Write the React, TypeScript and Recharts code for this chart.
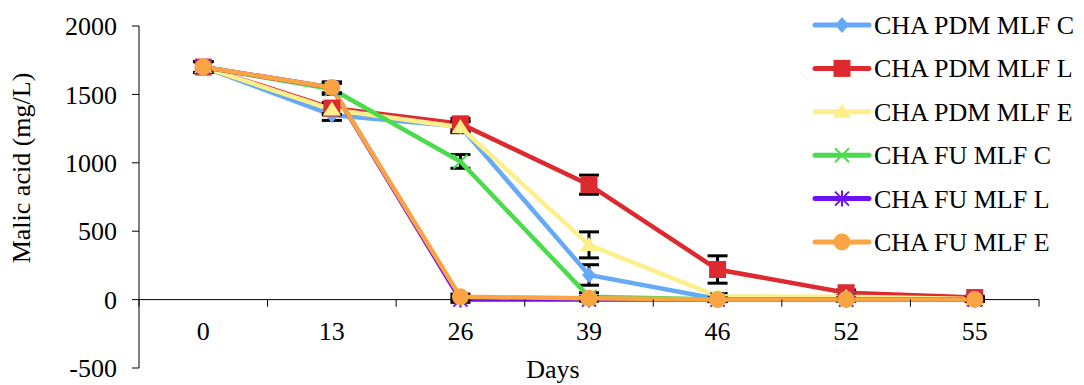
import React from 'react';
import { LineChart, Line, XAxis, YAxis, ReferenceLine, ErrorBar, Legend, Label } from 'recharts';

const FONT = '"Liberation Serif", "Times New Roman", serif';

const days = ['0', '13', '26', '39', '46', '52', '55'];

const pdmC = [1700, 1350, 1265, 180, 5, 0, 0];
const pdmL = [1700, 1400, 1285, 840, 220, 50, 15];
const pdmE = [1700, 1390, 1260, 400, 25, 20, 5];
const fuC = [1700, 1540, 1010, 20, 0, 0, 0];
const fuL = [1700, 1550, 0, 0, 0, 0, 0];
const fuE = [1700, 1550, 20, 10, 0, 0, 0];

const pdmCErr = [40, 40, 40, 75, 20, 10, 10];
const pdmLErr = [40, 40, 40, 70, 100, 20, 10];
const pdmEErr = [40, 40, 40, 95, 20, 10, 10];
const fuCErr = [40, 40, 50, 30, 10, 10, 10];
const fuLErr = [40, 40, 20, 10, 10, 10, 10];
const fuEErr = [40, 40, 20, 10, 10, 10, 10];

const yTicks = [-500, 0, 500, 1000, 1500, 2000];

// layout
const W = 1084;
const H = 385;
const PLOT_LEFT = 139;
const PLOT_RIGHT = 1039;
const PLOT_TOP = 26;
const PLOT_BOTTOM = 368;
const Y_MIN = -500;
const Y_MAX = 2000;
const ZERO_Y = PLOT_TOP + ((Y_MAX - 0) / (Y_MAX - Y_MIN)) * (PLOT_BOTTOM - PLOT_TOP);
const BAND = (PLOT_RIGHT - PLOT_LEFT) / days.length;

type Shape = 'diamond' | 'square' | 'triangle' | 'cross' | 'star' | 'circle';

const series: { key: string; err: string; name: string; color: string; shape: Shape; values: number[]; errors: number[] }[] = [
  { key: 'pdmC', err: 'pdmCErr', name: 'CHA PDM MLF C', color: '#66aaf7', shape: 'diamond', values: pdmC, errors: pdmCErr },
  { key: 'pdmL', err: 'pdmLErr', name: 'CHA PDM MLF L', color: '#dd2a30', shape: 'square', values: pdmL, errors: pdmLErr },
  { key: 'pdmE', err: 'pdmEErr', name: 'CHA PDM MLF E', color: '#fdf08c', shape: 'triangle', values: pdmE, errors: pdmEErr },
  { key: 'fuC', err: 'fuCErr', name: 'CHA FU MLF C', color: '#4cdb4c', shape: 'cross', values: fuC, errors: fuCErr },
  { key: 'fuL', err: 'fuLErr', name: 'CHA FU MLF L', color: '#6a12f2', shape: 'star', values: fuL, errors: fuLErr },
  { key: 'fuE', err: 'fuEErr', name: 'CHA FU MLF E', color: '#fba444', shape: 'circle', values: fuE, errors: fuEErr },
];

const data = days.map((day, i) => {
  const row: Record<string, string | number> = { day };
  series.forEach((s) => {
    row[s.key] = s.values[i];
    row[s.err] = s.errors[i];
  });
  return row;
});

const Marker = ({ shape, cx, cy, color }: { shape: Shape; cx: number; cy: number; color: string }) => {
  switch (shape) {
    case 'diamond':
      return <polygon points={`${cx},${cy - 8} ${cx + 7},${cy} ${cx},${cy + 8} ${cx - 7},${cy}`} fill={color} />;
    case 'square':
      return <rect x={cx - 8.5} y={cy - 8.5} width={17} height={17} fill={color} />;
    case 'triangle':
      return <polygon points={`${cx},${cy - 8} ${cx + 9},${cy + 6} ${cx - 9},${cy + 6}`} fill={color} />;
    case 'cross':
      return (
        <g stroke={color} strokeWidth={2}>
          <line x1={cx - 7} y1={cy - 7} x2={cx + 7} y2={cy + 7} />
          <line x1={cx - 7} y1={cy + 7} x2={cx + 7} y2={cy - 7} />
        </g>
      );
    case 'star':
      return (
        <g stroke={color} strokeWidth={2}>
          <line x1={cx - 7} y1={cy - 7} x2={cx + 7} y2={cy + 7} />
          <line x1={cx - 7} y1={cy + 7} x2={cx + 7} y2={cy - 7} />
          <line x1={cx} y1={cy - 8} x2={cx} y2={cy + 8} />
        </g>
      );
    default:
      return <circle cx={cx} cy={cy} r={8.5} fill={color} />;
  }
};

// category label under the zero line, with boundary tick marks between days
const DayTick = (props: any) => {
  const { x, payload, index } = props;
  const left = x - BAND / 2;
  const right = x + BAND / 2;
  return (
    <g>
      <line x1={left} y1={ZERO_Y} x2={left} y2={ZERO_Y + 7} stroke="#000" />
      {index === days.length - 1 && <line x1={right} y1={ZERO_Y} x2={right} y2={ZERO_Y + 7} stroke="#000" />}
      <text x={x} y={ZERO_Y + 40} textAnchor="middle" fontSize={26} fontFamily={FONT} fill="#000">
        {payload.value}
      </text>
    </g>
  );
};

const LegendBox = () => (
  <svg width={278} height={265}>
    {series.map((s, i) => {
      const cy = 25 + i * 43.4;
      return (
        <g key={s.key}>
          <line x1={9} y1={cy} x2={63} y2={cy} stroke={s.color} strokeWidth={5} strokeLinecap="round" />
          <Marker shape={s.shape} cx={36} cy={cy} color={s.color} />
          <text x={68} y={cy + 9} fontSize={26} fontFamily={FONT} fill="#000">
            {s.name}
          </text>
        </g>
      );
    })}
  </svg>
);

export default function App() {
  return (
    <div style={{ position: 'absolute', left: 0, top: 0, background: '#fff' }}>
      <LineChart
        width={W}
        height={H}
        data={data}
        margin={{ top: PLOT_TOP, right: W - PLOT_RIGHT, bottom: 0, left: 0 }}
        style={{ fontFamily: FONT }}
      >
        <XAxis
          dataKey="day"
          type="category"
          scale="band"
          height={H - PLOT_BOTTOM}
          axisLine={false}
          tickLine={false}
          interval={0}
          tick={<DayTick />}
        >
          <Label
            content={() => (
              <text x={553} y={378} textAnchor="middle" fontSize={26} fontFamily={FONT} fill="#000">
                Days
              </text>
            )}
          />
        </XAxis>
        <YAxis
          width={PLOT_LEFT}
          domain={[Y_MIN, Y_MAX]}
          ticks={yTicks}
          interval={0}
          tickSize={7}
          tickMargin={15}
          axisLine={{ stroke: '#000' }}
          tickLine={{ stroke: '#000' }}
          tick={{ fill: '#000', fontSize: 26, fontFamily: FONT }}
        >
          <Label
            content={() => (
              <text
                x={30}
                y={168}
                transform="rotate(-90 30 168)"
                textAnchor="middle"
                fontSize={26}
                fontFamily={FONT}
                fill="#000"
              >
                Malic acid (mg/L)
              </text>
            )}
          />
        </YAxis>
        <ReferenceLine y={0} stroke="#000" strokeWidth={1} />
        <Legend
          layout="horizontal"
          verticalAlign="middle"
          align="center"
          content={() => <LegendBox />}
          wrapperStyle={{ position: 'absolute', left: 806, top: 0, width: 278, height: 265 }}
        />
        {series.map((s) => (
          <Line
            key={s.key}
            dataKey={s.key}
            name={s.name}
            stroke={s.color}
            strokeWidth={4.5}
            isAnimationActive={false}
            dot={(p: any) => <Marker key={`${s.key}-${p.index}`} shape={s.shape} cx={p.cx} cy={p.cy} color={s.color} />}
            activeDot={false}
          >
            <ErrorBar dataKey={s.err} stroke="#000" strokeWidth={3} width={10} direction="y" />
          </Line>
        ))}
      </LineChart>
    </div>
  );
}
